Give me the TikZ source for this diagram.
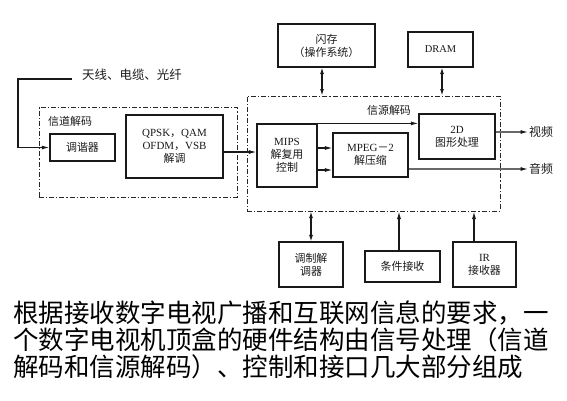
\documentclass[tikz,border=0pt]{standalone}
\usepackage{fontspec}
\setmainfont{Liberation Serif}
\newfontfamily\cjk{Noto Sans CJK SC}
\usetikzlibrary{arrows.meta}
\tikzset{
  box/.style={draw=black!90, line width=1.2pt, align=center, inner sep=1pt,
    font=\fontsize{11}{13}\selectfont\cjk, text=black!90},
  grp/.style={draw=black!85, line width=1pt, dash pattern=on 5bp off 2bp on 1.2bp off 2bp},
  arr/.style={draw=black!90, line width=1.1pt, -{Latex[length=7.5bp,width=4bp]}},
  dbl/.style={draw=black!90, line width=1.1pt, {Latex[length=6.5bp,width=4bp]}-{Latex[length=6.5bp,width=4bp]}},
  lbl/.style={font=\fontsize{11}{13}\selectfont\cjk, text=black!90, inner sep=1pt},
}
\begin{document}
\begin{tikzpicture}[x=1bp,y=-1bp]
\useasboundingbox (0,0) rectangle (567,400);
% group boxes
\node[grp, minimum width=198bp, minimum height=90bp, inner sep=0pt] (chan) at (138,152) {};
\node[grp, minimum width=253bp, minimum height=115bp, inner sep=0pt] (src) at (373.5,153.5) {};
\node[lbl, anchor=west] (chanlbl) at (47,121) {信道解码};
\node[lbl] (srclbl) at (389,110) {信源解码};
% boxes
\node[box, minimum width=65bp, minimum height=27bp] (tuner) at (82.5,147.5) {调谐器};
\node[box, minimum width=97bp, minimum height=63bp, font=\fontsize{11}{13}\selectfont] (qpsk) at (174.5,146.5) {QPSK{\cjk ，}QAM\\OFDM{\cjk ，}VSB\\{\cjk 解调}};
\node[box, minimum width=97bp, minimum height=43bp] (flash) at (326.5,45.5) {闪存\\（操作系统）};
\node[box, minimum width=65bp, minimum height=35bp, font=\fontsize{10.5}{13}\selectfont] (dram) at (440.5,49.5) {DRAM};
\node[box, minimum width=60bp, minimum height=63bp] (mips) at (287,155.5) {{\rmfamily MIPS}\\解复用\\控制};
\node[box, minimum width=75bp, minimum height=44bp] (mpeg) at (370.5,155) {{\rmfamily MPEG}－{\rmfamily 2}\\解压缩};
\node[box, minimum width=76bp, minimum height=45bp] (g2d) at (457,136.5) {{\rmfamily 2D}\\图形处理};
\node[box, minimum width=64bp, minimum height=45bp] (modem) at (311,264.5) {调制解\\调器};
\node[box, minimum width=75bp, minimum height=31bp] (ca) at (402.5,266.5) {条件接收};
\node[box, minimum width=63bp, minimum height=45bp] (ir) at (484.5,264.5) {{\rmfamily IR}\\接收器};
% input
\node[lbl, font=\fontsize{12.5}{14}\selectfont\cjk] (input) at (132,75) {天线、电缆、光纤};
\coordinate (inl) at (72,79);
\draw[arr] (inl) -- (18,79) |- (tuner.west);
% outputs
\node[lbl, font=\fontsize{12}{14}\selectfont\cjk, anchor=west] (vid) at (528,132) {视频};
\node[lbl, font=\fontsize{12}{14}\selectfont\cjk, anchor=west] (aud) at (528,169) {音频};
% connectors
\draw[arr] (qpsk.east |- 0,152) -- (mips.west |- 0,152);
\draw[arr] (mips.north east) -- (mips.north east -| g2d.west);
\draw[arr] ([yshift=7.5bp]mips.east) -- ([yshift=7.5bp]mips.east -| mpeg.west);
\draw[arr] ([yshift=-14.5bp]mips.east) -- ([yshift=-14.5bp]mips.east -| mpeg.west);
\draw[arr] ([yshift=4.5bp]g2d.east) -- (vid.west);
\draw[arr] ([yshift=-14bp]mpeg.east) -- (aud.west);
\draw[dbl] ([xshift=-4.5bp]flash.south) -- ([xshift=-4.5bp]flash.south |- src.north);
\draw[dbl] ([xshift=1.5bp]dram.south) -- ([xshift=1.5bp]dram.south |- src.north);
\draw[dbl] (modem.north) -- (modem.north |- src.south);
\draw[arr] ([xshift=-3.5bp]ca.north) -- ([xshift=-3.5bp]ca.north |- src.south);
\draw[arr] ([xshift=-10.5bp]ir.north) -- ([xshift=-10.5bp]ir.north |- src.south);
% caption
\node[anchor=north west, align=left, inner sep=0pt, font=\fontsize{25.6}{27}\selectfont\cjk, text=black] (cap) at (13,301) {根据接收数字电视广播和互联网信息的要求，一\\个数字电视机顶盒的硬件结构由信号处理（信道\\解码和信源解码）、控制和接口几大部分组成};
\end{tikzpicture}
\end{document}
